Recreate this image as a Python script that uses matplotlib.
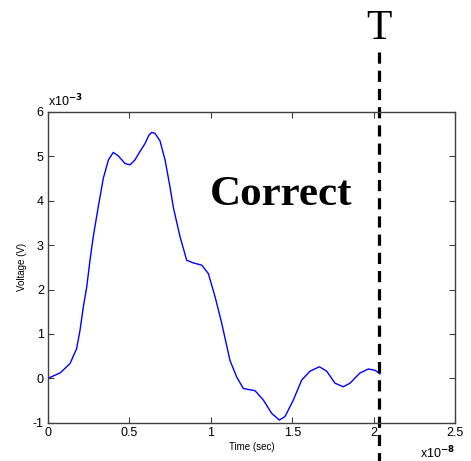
import matplotlib
matplotlib.use("Agg")
import matplotlib.pyplot as plt
import matplotlib.transforms as mtransforms
from matplotlib.ticker import FormatStrFormatter

# time in units of 1e-8 s, voltage in units of 1e-3 V
time = [0.0, 0.074, 0.135, 0.176, 0.197, 0.217, 0.238, 0.258, 0.278, 0.309,
        0.340, 0.371, 0.401, 0.432, 0.473, 0.504, 0.534, 0.565, 0.596, 0.620,
        0.637, 0.657, 0.688, 0.719, 0.749, 0.770, 0.811, 0.852, 0.893, 0.944,
        0.985, 1.026, 1.067, 1.118, 1.159, 1.200, 1.272, 1.323, 1.374, 1.421,
        1.456, 1.507, 1.558, 1.609, 1.667, 1.712, 1.763, 1.814, 1.855, 1.916,
        1.968, 2.009, 2.039]
voltage = [0.0, 0.12, 0.33, 0.67, 1.09, 1.61, 2.06, 2.66, 3.19, 3.87,
           4.51, 4.92, 5.09, 5.01, 4.84, 4.81, 4.92, 5.11, 5.29, 5.48,
           5.54, 5.52, 5.35, 4.92, 4.32, 3.85, 3.19, 2.66, 2.60, 2.55,
           2.36, 1.84, 1.24, 0.40, 0.03, -0.23, -0.28, -0.49, -0.79, -0.94,
           -0.86, -0.49, -0.04, 0.16, 0.26, 0.16, -0.11, -0.19, -0.11, 0.12,
           0.21, 0.18, 0.10]
marker_T = 2.033
xticks = [0, 0.5, 1, 1.5, 2, 2.5]
yticks = [-1, 0, 1, 2, 3, 4, 5, 6]

plt.rcParams['font.family'] = ['Liberation Sans', 'DejaVu Sans']

fig = plt.figure(figsize=(4.71, 4.61), dpi=100)
ax = fig.add_axes([48/471, 1 - 422.7/461, (455-48)/471, (422.7-112)/461])

ax.plot(time, voltage, color='#0000ff', linewidth=1.0)
ax.set_xlim(0, 2.5)
ax.set_ylim(-1, 6)
ax.set_xticks(xticks)
ax.set_yticks(yticks)
ax.xaxis.set_major_formatter(FormatStrFormatter('%g'))
ax.yaxis.set_major_formatter(FormatStrFormatter('%g'))
ax.tick_params(direction='in', length=4, width=0.8, color='#404040',
               labelsize=9, top=True, right=True, pad=3)
for s in ax.spines.values():
    s.set_color('#404040')
    s.set_linewidth(1.0)

ax.set_xlabel('Time (sec)', fontsize=7, labelpad=2)
ax.set_ylabel('Voltage (V)', fontsize=7, labelpad=4)

# offset labels
ax.text(0.0, 1.01, r'x10$^{\mathbf{-3}}$', transform=ax.transAxes, fontsize=9,
        ha='left', va='bottom')
ax.text(0.915, -0.123, r'x10$^{\mathbf{-8}}$', transform=ax.transAxes, fontsize=9,
        ha='left', va='bottom')

# dashed T marker
trans = mtransforms.blended_transform_factory(ax.transData, ax.transAxes)
ax.plot([marker_T, marker_T], [1.193, -0.13], transform=trans, color='black',
        linewidth=2.3, linestyle=(0, (3.5, 2.2)), clip_on=False)
ax.text(marker_T, 1.206, 'T', transform=trans, fontsize=30,
        family=['Liberation Serif'], ha='center', va='bottom')

ax.text(1.43, 4.13, 'Correct', fontsize=31, fontweight='bold',
        family=['Liberation Serif'], ha='center', va='center')

fig.savefig('out.png', dpi=100)
